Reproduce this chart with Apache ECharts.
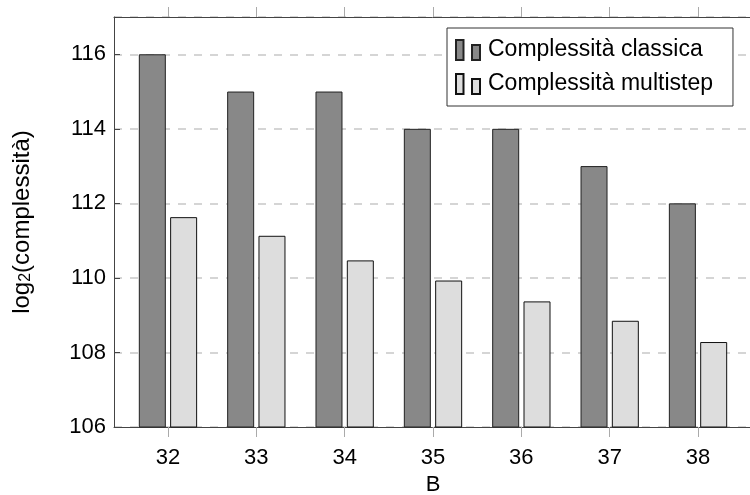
<!DOCTYPE html>
<html>
<head>
<meta charset="utf-8">
<script src="https://cdn.jsdelivr.net/npm/echarts@6/dist/echarts.min.js"></script>
<style>html,body{margin:0;padding:0;background:#fff}#c{width:750px;height:495px}</style>
</head>
<body>
<div id="c"></div>
<script>
var categories = [32, 33, 34, 35, 36, 37, 38];
var classica = [116, 115, 115, 114, 114, 113, 112];
var multistep = [111.63, 111.13, 110.47, 109.93, 109.37, 108.85, 108.28];
var yTicks = [106, 108, 110, 112, 114, 116];
var seriesNames = ['Complessità classica', 'Complessità multistep'];

var FONT = '"Liberation Sans", Arial, sans-serif';
function pairs(vals) { return categories.map(function (c, i) { return [c, vals[i]]; }); }

var chart = echarts.init(document.getElementById('c'), null, {renderer: 'canvas'});
var xBase = {
  type: 'value', min: 31.389, max: 38.611,
  axisLine: {show: true, onZero: false, lineStyle: {color: '#444', width: 1}},
  axisTick: {show: true, customValues: categories, length: 10, inside: false, lineStyle: {color: '#aaa', width: 1}},
  splitLine: {show: false}
};
chart.setOption({
  animation: false,
  textStyle: {fontFamily: FONT},
  grid: {left: 114, right: -2, top: 17, bottom: 68, containLabel: false, outerBoundsMode: 'none'},
  legend: {
    orient: 'vertical', left: 447, top: 28,
    data: seriesNames,
    icon: 'path://M0,0h7.5v20h-7.5zM16,5h8v15h-8zM27,20',
    itemWidth: 27, itemHeight: 20, itemGap: 8,
    padding: [9, 20, 9, 8],
    borderColor: '#333', borderWidth: 1, backgroundColor: '#fff',
    textStyle: {fontSize: 23, color: '#000', fontFamily: FONT, lineHeight: 26},
    selectedMode: false
  },
  xAxis: [
    Object.assign({}, xBase, {
      position: 'bottom',
      axisLabel: {show: true, customValues: categories, fontSize: 22, color: '#000', margin: 20, fontFamily: FONT},
      name: 'B', nameLocation: 'middle', nameGap: 46,
      nameTextStyle: {fontSize: 22, color: '#000', fontFamily: FONT}
    }),
    Object.assign({}, xBase, {position: 'top', axisLabel: {show: false}})
  ],
  yAxis: {
    type: 'value', min: 106, max: 117, interval: 2,
    axisLine: {show: true, lineStyle: {color: '#444', width: 1}},
    axisTick: {show: true, inside: true, length: 6, lineStyle: {color: '#444'}},
    axisLabel: {fontSize: 22, color: '#000', margin: 8, showMaxLabel: false, fontFamily: FONT},
    splitLine: {show: true, lineStyle: {color: '#c8c8c8', type: [8, 8], width: 1.5}},
    name: 'log{sub|2}(complessità)', nameLocation: 'middle', nameGap: 80, nameRotate: 90,
    nameTextStyle: {fontSize: 24, color: '#000', fontFamily: FONT,
      rich: {sub: {fontSize: 16, color: '#000', fontFamily: FONT, verticalAlign: 'bottom', padding: [8, 0, 0, 0]}}}
  },
  series: [
    {name: seriesNames[0], type: 'bar', xAxisIndex: 0, data: pairs(classica), barWidth: 27, barGap: '16%',
      itemStyle: {color: '#888888', borderColor: '#222', borderWidth: 1}},
    {name: seriesNames[1], type: 'bar', xAxisIndex: 0, data: pairs(multistep), barWidth: 27, barGap: '16%',
      itemStyle: {color: '#dddddd', borderColor: '#111', borderWidth: 1}}
  ]
});
</script>
</body>
</html>
